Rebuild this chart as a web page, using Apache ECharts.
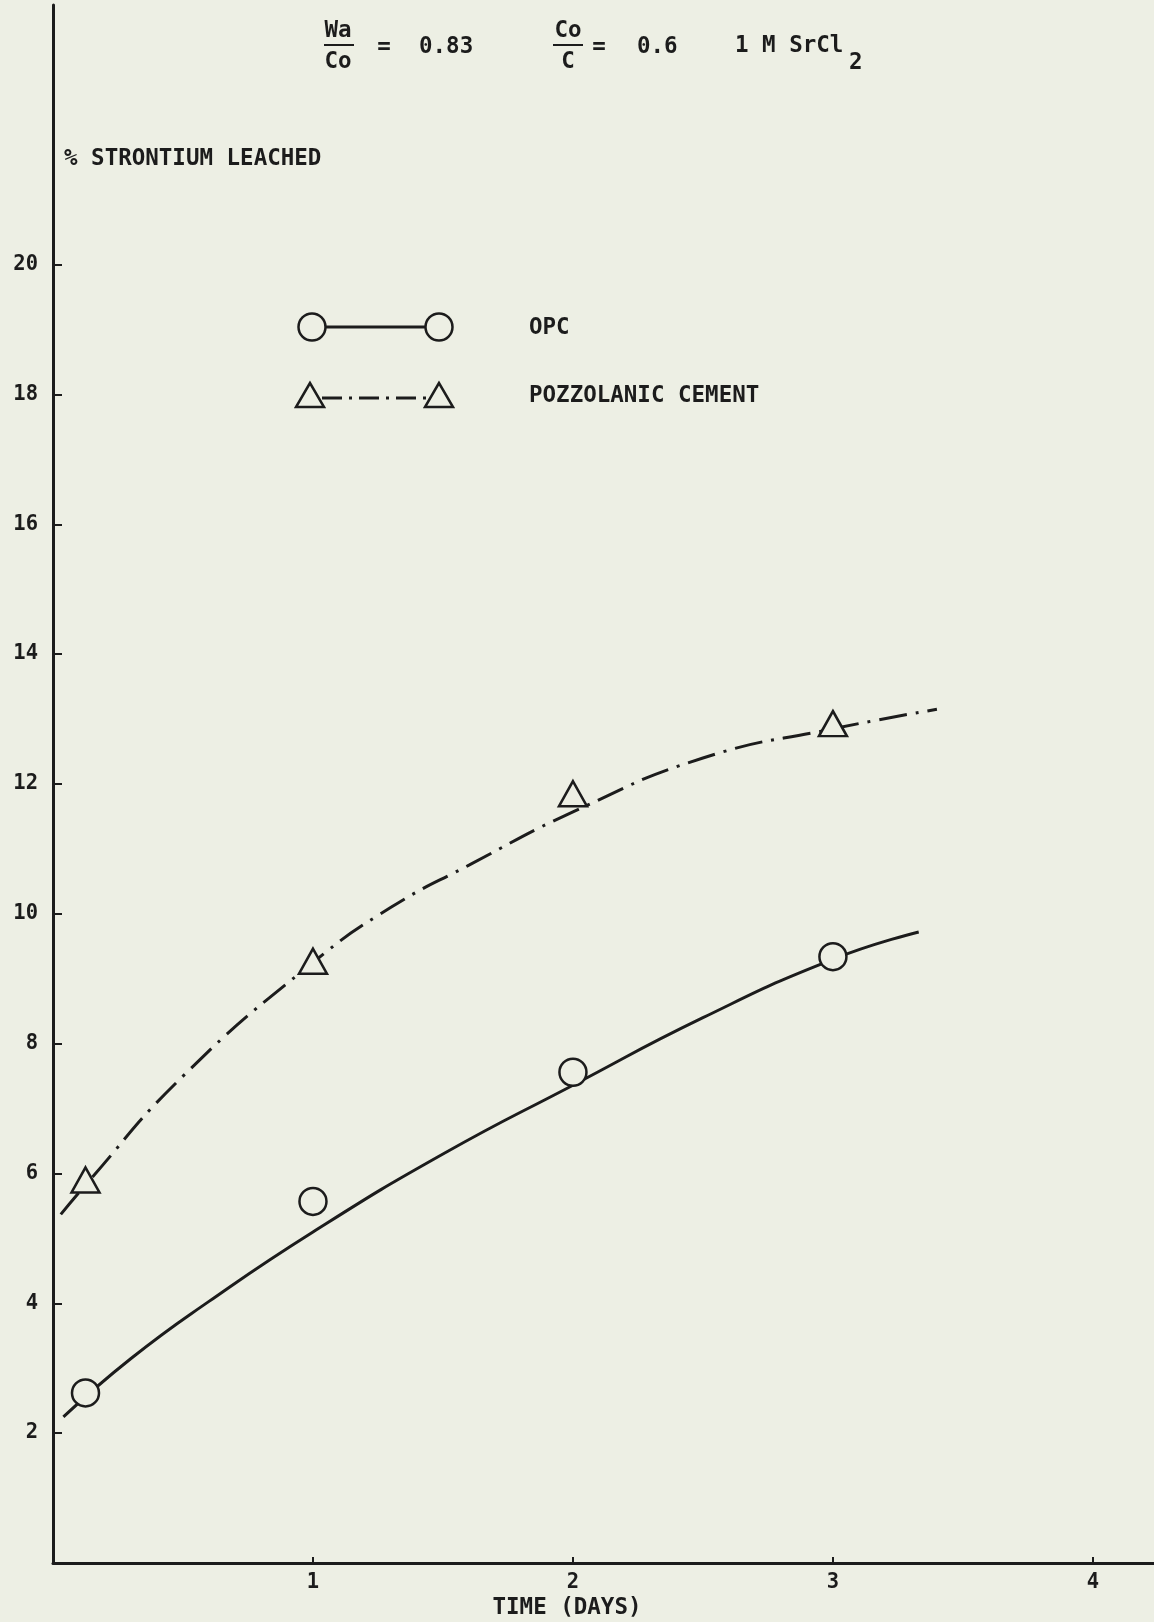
<!DOCTYPE html>
<html>
<head>
<meta charset="utf-8">
<script src="https://cdn.jsdelivr.net/npm/echarts@6/dist/echarts.min.js"></script>
<style>
html,body{margin:0;padding:0;background:#edefe4;}
#chart{width:1154px;height:1622px;}
</style>
</head>
<body>
<div id="chart"></div>
<script>
// ---- data ----
const xTicks = [1, 2, 3, 4];
const yTicks = [2, 4, 6, 8, 10, 12, 14, 16, 18, 20];

const sampleDays = [0.125, 1, 2, 3];
const opcLeached = [2.62, 5.57, 7.56, 9.34];
const pozzLeached = [5.9, 9.27, 11.85, 12.93];

const opcCurveDays = [0.04, 0.3, 0.6, 1.0, 1.5, 2.0, 2.5, 3.0, 3.33];
const opcCurveVals = [2.25, 3.15, 4.03, 5.1, 6.3, 7.36, 8.4, 9.3, 9.72];

const pozzCurveDays = [0.03, 0.12, 0.5, 1.0, 1.3, 1.6, 2.0, 2.5, 3.0, 3.4];
const pozzCurveVals = [5.37, 5.8, 7.5, 9.25, 10.1, 10.75, 11.57, 12.4, 12.85, 13.15];

const legendNames = ['OPC', 'POZZOLANIC CEMENT'];
const yTitle = '% STRONTIUM LEACHED';
const xTitle = 'TIME (DAYS)';

// ---- chart ----
const INK = '#1c1c1c';
const BG = '#edefe4';
const FONT = '"DejaVu Sans Mono", "Liberation Mono", monospace';
const zip = (a, b) => a.map((v, i) => [v, b[i]]);

const chart = echarts.init(document.getElementById('chart'), null, {renderer: 'canvas'});

const txt = (x, y, text, opts) => Object.assign({
  type: 'text', x: x, y: y, silent: true,
  style: Object.assign({text: text, font: 'bold 22.5px ' + FONT, fill: INK, textVerticalAlign: 'middle'}, (opts || {}))
});

chart.setOption({
  backgroundColor: BG,
  animation: false,
  grid: {left: 53, right: 0, top: 5, bottom: 59, containLabel: false},
  xAxis: {
    type: 'value', min: 0, max: 4.235,
    axisLine: {show: true, lineStyle: {color: INK, width: 3}},
    axisTick: {show: true, inside: true, length: 6, lineStyle: {color: INK, width: 2}, customValues: xTicks},
    axisLabel: {color: INK, fontFamily: FONT, fontWeight: 'bold', fontSize: 20.5, margin: 9, customValues: xTicks},
    splitLine: {show: false}
  },
  yAxis: {
    type: 'value', min: 0, max: 24,
    axisLine: {show: true, lineStyle: {color: INK, width: 3}},
    axisTick: {show: true, inside: true, length: 9, lineStyle: {color: INK, width: 2}, customValues: yTicks},
    axisLabel: {color: INK, fontFamily: FONT, fontWeight: 'bold', fontSize: 20.5, margin: 15, customValues: yTicks},
    splitLine: {show: false}
  },
  series: [
    {
      name: legendNames[0] + ' curve', type: 'line', smooth: true, showSymbol: false, silent: true,
      data: zip(opcCurveDays, opcCurveVals),
      lineStyle: {color: INK, width: 3}, z: 2
    },
    {
      name: legendNames[1] + ' curve', type: 'line', smooth: true, showSymbol: false, silent: true,
      data: zip(pozzCurveDays, pozzCurveVals),
      lineStyle: {color: INK, width: 3, type: [28, 9, 3, 9]}, z: 2
    },
    {
      name: legendNames[0], type: 'scatter', symbol: 'circle', symbolSize: 27,
      data: zip(sampleDays, opcLeached),
      itemStyle: {color: BG, borderColor: INK, borderWidth: 2.5, opacity: 1}, z: 5
    },
    {
      name: legendNames[1], type: 'scatter', symbol: 'triangle', symbolSize: [28, 25],
      data: zip(sampleDays, pozzLeached),
      itemStyle: {color: BG, borderColor: INK, borderWidth: 2.5, opacity: 1}, z: 5
    }
  ],
  graphic: [
    // header annotation
    txt(338, 31, 'Wa', {textAlign: 'center'}),
    {type: 'line', silent: true, shape: {x1: 324, y1: 45, x2: 354, y2: 45}, style: {stroke: INK, lineWidth: 2}},
    txt(338, 62, 'Co', {textAlign: 'center'}),
    txt(384, 47, '=', {textAlign: 'center'}),
    txt(419, 47, '0.83'),
    txt(568, 31, 'Co', {textAlign: 'center'}),
    {type: 'line', silent: true, shape: {x1: 553, y1: 45, x2: 583, y2: 45}, style: {stroke: INK, lineWidth: 2}},
    txt(568, 62, 'C', {textAlign: 'center'}),
    txt(599, 47, '=', {textAlign: 'center'}),
    txt(637, 47, '0.6'),
    txt(735, 46, '1 M SrCl'),
    txt(849, 63, '2'),
    // y title
    txt(64, 159, yTitle),
    // x title
    txt(567, 1608, xTitle, {textAlign: 'center'}),
    // legend
    {type: 'line', silent: true, shape: {x1: 325, y1: 327, x2: 426, y2: 327}, style: {stroke: INK, lineWidth: 3}},
    {type: 'circle', silent: true, shape: {cx: 312, cy: 327, r: 13.5}, style: {fill: BG, stroke: INK, lineWidth: 2.5}},
    {type: 'circle', silent: true, shape: {cx: 439, cy: 327, r: 13.5}, style: {fill: BG, stroke: INK, lineWidth: 2.5}},
    txt(529, 328, legendNames[0]),
    {type: 'line', silent: true, shape: {x1: 322, y1: 398, x2: 428, y2: 398}, style: {stroke: INK, lineWidth: 3, lineDash: [20, 7, 3, 7]}},
    {type: 'polygon', silent: true, shape: {points: [[310, 383], [296, 407], [324, 407]]}, style: {fill: BG, stroke: INK, lineWidth: 2.5}},
    {type: 'polygon', silent: true, shape: {points: [[439, 383], [425, 407], [453, 407]]}, style: {fill: BG, stroke: INK, lineWidth: 2.5}},
    txt(529, 396, legendNames[1])
  ]
});
</script>
</body>
</html>
